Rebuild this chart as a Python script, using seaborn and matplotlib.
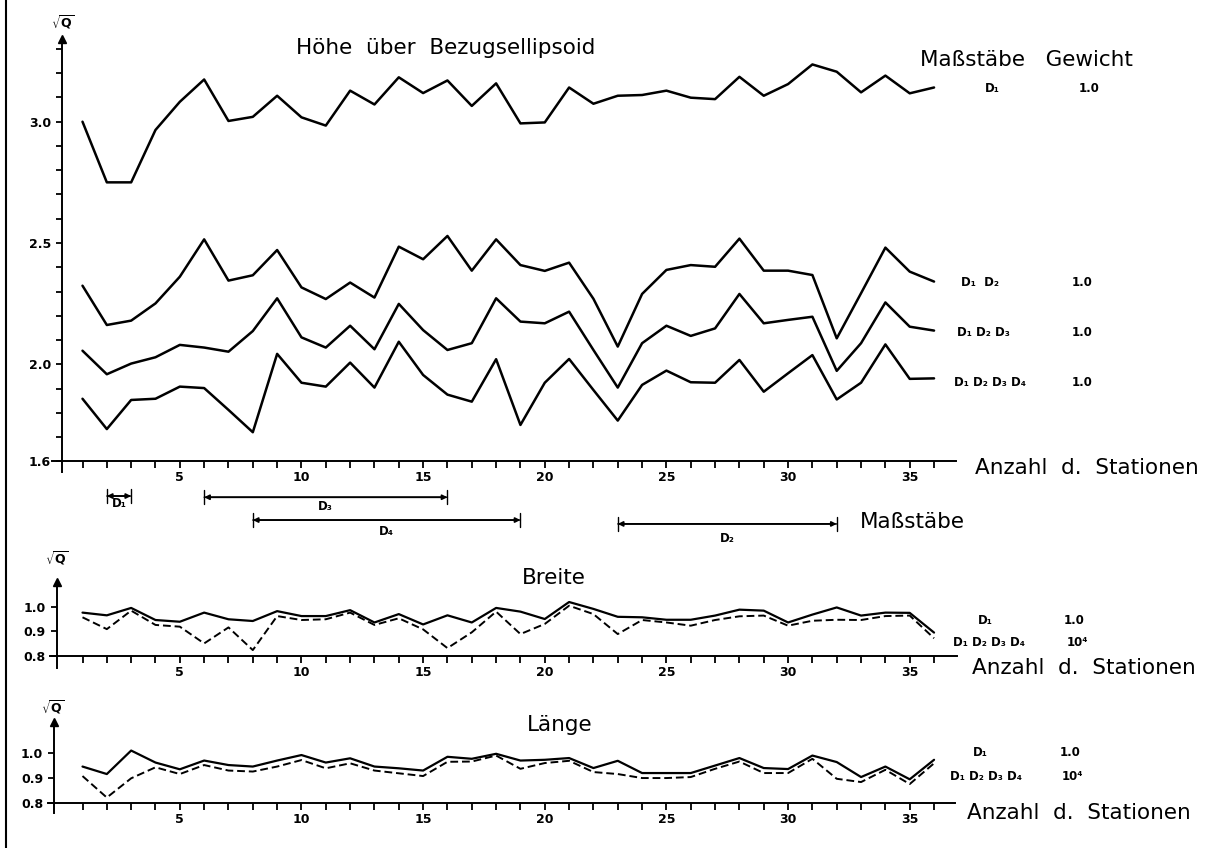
import numpy as np
import pandas as pd
import matplotlib
matplotlib.use("Agg")
import matplotlib.pyplot as plt
import seaborn as sns
from matplotlib.ticker import FixedLocator, FuncFormatter
from matplotlib.lines import Line2D

# ---------------- data ----------------
stations = list(range(1, 37))

hoehe_d1 = [3.00, 2.75, 2.75, 2.966, 3.082, 3.174, 3.003, 3.02, 3.107, 3.018, 2.984, 3.128,
            3.071, 3.183, 3.118, 3.17, 3.065, 3.158, 2.993, 2.997, 3.141, 3.074, 3.107, 3.11,
            3.128, 3.099, 3.093, 3.185, 3.107, 3.155, 3.236, 3.206, 3.121, 3.19, 3.117, 3.141]
hoehe_d12 = [2.324, 2.162, 2.18, 2.251, 2.361, 2.515, 2.345, 2.367, 2.471, 2.317, 2.269, 2.337,
             2.275, 2.485, 2.433, 2.529, 2.386, 2.515, 2.409, 2.385, 2.419, 2.27, 2.073, 2.29,
             2.389, 2.409, 2.402, 2.518, 2.386, 2.386, 2.368, 2.107, 2.293, 2.481, 2.382, 2.341]
hoehe_d123 = [2.056, 1.959, 2.003, 2.029, 2.08, 2.069, 2.052, 2.137, 2.272, 2.111, 2.069, 2.159,
              2.062, 2.249, 2.141, 2.059, 2.087, 2.272, 2.176, 2.169, 2.217, 2.059, 1.904, 2.087,
              2.159, 2.117, 2.148, 2.29, 2.169, 2.183, 2.196, 1.973, 2.087, 2.255, 2.155, 2.139]
hoehe_d1234 = [1.858, 1.733, 1.853, 1.858, 1.908, 1.902, 1.812, 1.72, 2.043, 1.924, 1.908, 2.007,
               1.904, 2.093, 1.956, 1.875, 1.846, 2.021, 1.75, 1.924, 2.022, 1.894, 1.768, 1.915,
               1.974, 1.926, 1.924, 2.018, 1.887, 1.963, 2.038, 1.855, 1.924, 2.082, 1.94, 1.942]

breite_d1 = [0.976, 0.965, 0.995, 0.946, 0.939, 0.976, 0.949, 0.942, 0.982, 0.962, 0.962, 0.986,
             0.936, 0.970, 0.928, 0.965, 0.936, 0.995, 0.980, 0.950, 1.019, 0.991, 0.959, 0.957,
             0.947, 0.947, 0.964, 0.988, 0.984, 0.936, 0.968, 0.997, 0.964, 0.976, 0.975, 0.895]
breite_d1234 = [0.957, 0.909, 0.984, 0.926, 0.919, 0.851, 0.916, 0.824, 0.962, 0.946, 0.949, 0.976,
                0.926, 0.953, 0.908, 0.832, 0.896, 0.98, 0.889, 0.93, 1.004, 0.97, 0.889, 0.946,
                0.936, 0.923, 0.946, 0.961, 0.964, 0.923, 0.943, 0.947, 0.946, 0.962, 0.964, 0.872]

laenge_d1 = [0.947, 0.917, 1.011, 0.963, 0.936, 0.971, 0.953, 0.947, 0.971, 0.993, 0.963, 0.98,
             0.947, 0.94, 0.931, 0.986, 0.978, 0.998, 0.971, 0.974, 0.981, 0.941, 0.97, 0.921,
             0.921, 0.921, 0.951, 0.981, 0.941, 0.937, 0.991, 0.965, 0.905, 0.947, 0.896, 0.974]
laenge_d1234 = [0.909, 0.823, 0.9, 0.944, 0.917, 0.953, 0.931, 0.927, 0.947, 0.973, 0.94, 0.96,
                0.931, 0.92, 0.909, 0.966, 0.967, 0.991, 0.938, 0.961, 0.970, 0.925, 0.917, 0.901,
                0.901, 0.905, 0.938, 0.967, 0.921, 0.921, 0.978, 0.898, 0.885, 0.934, 0.877, 0.96]

scale_names = ["D\u2081", "D\u2083", "D\u2084", "D\u2082"]
scale_start = [2, 6, 8, 23]
scale_end = [3, 16, 19, 32]

hoehe_labels = ["D\u2081", "D\u2081  D\u2082", "D\u2081 D\u2082 D\u2083", "D\u2081 D\u2082 D\u2083 D\u2084"]
hoehe_weights = ["1.0", "1.0", "1.0", "1.0"]
lower_labels = ["D\u2081", "D\u2081 D\u2082 D\u2083 D\u2084"]
lower_weights = ["1.0", "10\u2074"]

# ---------------- style ----------------
sns.set_style("ticks")
plt.rcParams["font.family"] = ["DejaVu Sans"]
plt.rcParams.update({
    "axes.linewidth": 1.4,
    "axes.edgecolor": "black",
    "text.color": "black",
    "axes.labelcolor": "black",
    "xtick.color": "black",
    "ytick.color": "black",
})

W, H = 1226, 848
fig = plt.figure(figsize=(W / 100, H / 100), dpi=100)

X0, DX = 82.5, 24.33  # pixel position of station 1, pixels per station


def make_axes(xlim, ylim, ypix_of):
    x_left = X0 + (xlim[0] - 1) * DX
    x_right = X0 + (xlim[1] - 1) * DX
    y_bot = ypix_of(ylim[0])
    y_top = ypix_of(ylim[1])
    ax = fig.add_axes([x_left / W, 1 - y_bot / H, (x_right - x_left) / W, (y_bot - y_top) / H])
    ax.set_xlim(*xlim)
    ax.set_ylim(*ylim)
    ax.set_facecolor("none")
    for s in ["top", "right"]:
        ax.spines[s].set_visible(False)
    return ax


def style_axes(ax, yaxis_x, base, yticks, ylabels, top):
    ax.spines["left"].set_position(("data", yaxis_x))
    ax.spines["bottom"].set_position(("data", base))
    ax.xaxis.set_major_locator(FixedLocator(stations))
    ax.xaxis.set_major_formatter(FuncFormatter(lambda v, p: f"{int(round(v))}" if round(v) % 5 == 0 else ""))
    ax.yaxis.set_major_locator(FixedLocator(yticks))
    ax.yaxis.set_major_formatter(FuncFormatter(
        lambda v, p: f"{v:.1f}" if any(abs(v - l) < 1e-6 for l in ylabels) else ""))
    ax.tick_params(axis="x", bottom=True, direction="out", length=5, width=1.3, pad=2,
                   labelsize=9, colors="black")
    ax.tick_params(axis="y", left=True, direction="out", length=4, width=1.3, pad=4,
                   labelsize=9, colors="black")
    for lab in ax.get_xticklabels() + ax.get_yticklabels():
        lab.set_fontweight("bold")
    ax.plot([yaxis_x], [top], marker="^", ms=6, color="k", clip_on=False)
    ax.set_xlabel("")
    ax.set_ylabel("")


def ftext(x, y, s, **kw):
    fig.text(x / W, 1 - y / H, s, color="black", **kw)


# ---------------- top panel: Höhe ----------------
ax1 = make_axes((-0.25, 36.9), (1.557, 3.34), lambda v: 121.7 + (3.0 - v) * 242.6)
for series in [hoehe_d1, hoehe_d12, hoehe_d123, hoehe_d1234]:
    sns.lineplot(x=stations, y=series, ax=ax1, color="black", lw=1.8)
style_axes(ax1, 0.16, 1.6, list(np.round(np.arange(1.6, 3.31, 0.1), 1)), [1.6, 2.0, 2.5, 3.0], 3.34)

# Maßstäbe ranges below the axis
bar_levels = [1.457, 1.452, 1.358, 1.342]
label_levels = [1.425, 1.413, 1.312, 1.283]
for name, a, b, yb, yl in zip(scale_names, scale_start, scale_end, bar_levels, label_levels):
    ax1.annotate("", xy=(b, yb), xytext=(a, yb), xycoords="data", annotation_clip=False,
                 arrowprops=dict(arrowstyle="<|-|>", color="k", lw=1.3, shrinkA=0, shrinkB=0,
                                 mutation_scale=7))
    ax1.annotate("", xy=(b, yb), xytext=(a, yb), xycoords="data", annotation_clip=False,
                 arrowprops=dict(arrowstyle="|-|, widthA=0.5, widthB=0.5", color="k", lw=1.0,
                                 shrinkA=0, shrinkB=0))
    ax1.text((a + b) / 2, yl, name, ha="center", va="center", fontsize=8.5, fontweight="bold",
             color="black", clip_on=False)

# ---------------- middle panel: Breite ----------------
ax2 = make_axes((-0.34, 36.93), (0.75, 1.10), lambda v: 606.7 + (1.0 - v) * 246.5)
sns.lineplot(x=stations, y=breite_d1, ax=ax2, color="black", lw=1.6)
sns.lineplot(x=stations, y=breite_d1234, ax=ax2, color="black", lw=1.4, linestyle=(0, (4, 2)))
style_axes(ax2, -0.05, 0.8, [0.8, 0.9, 1.0], [0.8, 0.9, 1.0], 1.10)

# ---------------- bottom panel: Länge ----------------
ax3 = make_axes((-0.42, 36.85), (0.76, 1.126), lambda v: 753.3 + (1.0 - v) * 250.0)
sns.lineplot(x=stations, y=laenge_d1, ax=ax3, color="black", lw=1.6)
sns.lineplot(x=stations, y=laenge_d1234, ax=ax3, color="black", lw=1.4, linestyle=(0, (4, 2)))
style_axes(ax3, -0.16, 0.8, [0.8, 0.9, 1.0], [0.8, 0.9, 1.0], 1.126)

# ---------------- texts ----------------
big = dict(fontsize=15.5, va="center")
small_b = dict(fontsize=8.5, fontweight="bold", va="center")
sq = r"$\mathbf{\sqrt{Q}}$"

ftext(296, 48, "Höhe  über  Bezugsellipsoid", ha="left", **big)
ftext(920, 60, "Maßstäbe   Gewicht", ha="left", **big)
ftext(975, 468, "Anzahl  d.  Stationen", ha="left", **big)
ftext(860, 522, "Maßstäbe", ha="left", **big)
ftext(554, 578, "Breite", ha="center", **big)
ftext(972, 668, "Anzahl  d.  Stationen", ha="left", **big)
ftext(560, 725, "Länge", ha="center", **big)
ftext(967, 813, "Anzahl  d.  Stationen", ha="left", **big)

ftext(63, 22, sq, ha="center", va="center", fontsize=9)
ftext(57, 558, sq, ha="center", va="center", fontsize=9)
ftext(53, 707, sq, ha="center", va="center", fontsize=9)

for lab, wgt, y, xl, xw in zip(hoehe_labels, hoehe_weights, [89, 283, 332, 382],
                               [985, 961, 957, 954], [1079, 1072, 1072, 1072]):
    ftext(xl, y, lab, ha="left", **small_b)
    ftext(xw, y, wgt, ha="left", **small_b)

for lab, wgt, y, xl, xw in zip(lower_labels, lower_weights, [620, 642], [978, 953], [1064, 1067]):
    ftext(xl, y, lab, ha="left", **small_b)
    ftext(xw, y, wgt, ha="left", **small_b)
for lab, wgt, y, xl, xw in zip(lower_labels, lower_weights, [752, 777], [973, 950], [1060, 1062]):
    ftext(xl, y, lab, ha="left", **small_b)
    ftext(xw, y, wgt, ha="left", **small_b)

# left border line of the original sheet
fig.add_artist(Line2D([6 / W, 6 / W], [0, 1], color="k", lw=1.5))

fig.savefig("out.png", dpi=100, facecolor="white")
